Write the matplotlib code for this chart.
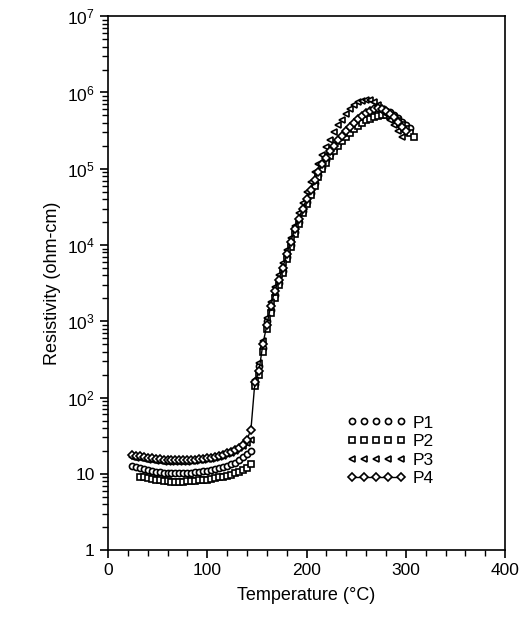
import math
import matplotlib
matplotlib.use('Agg')
import matplotlib.pyplot as plt
from matplotlib.ticker import FixedLocator, LogLocator, NullFormatter, FuncFormatter

plt.rcParams['font.family'] = ['Liberation Sans', 'DejaVu Sans']
plt.rcParams['mathtext.default'] = 'regular'

# low temperature part (PTC plateau)
t_low = [24, 28, 32, 36, 40, 44, 48, 52, 56, 60, 64, 68, 72, 76, 80, 84,
         88, 92, 96, 100, 104, 108, 112, 116, 120, 124, 128, 132, 136, 140, 144]
p1_low = [12.5, 12.2, 11.8, 11.5, 11.2, 10.9, 10.7, 10.5, 10.4, 10.3, 10.2, 10.2, 10.2, 10.2, 10.3, 10.4,
          10.5, 10.6, 10.8, 11.0, 11.2, 11.5, 11.8, 12.2, 12.7, 13.3, 14.0, 15.0, 16.5, 18.0, 20.0]
p2_low = [None, None, 9.2, 9.0, 8.8, 8.6, 8.4, 8.2, 8.1, 8.0, 7.9, 7.9, 7.9, 7.9, 8.0, 8.0,
          8.1, 8.2, 8.3, 8.4, 8.6, 8.8, 9.0, 9.2, 9.5, 9.8, 10.2, 10.6, 11.2, 12.0, 13.5]
p3_low = [16.5, 16.3, 16.0, 15.7, 15.4, 15.1, 14.9, 14.7, 14.5, 14.4, 14.3, 14.3, 14.3, 14.4, 14.5, 14.6,
          14.8, 15.0, 15.2, 15.5, 15.8, 16.2, 16.7, 17.3, 18.0, 19.0, 20.0, 21.5, 23.0, 25.5, 28.0]
p4_low = [17.5, 17.2, 17.0, 16.6, 16.3, 16.0, 15.7, 15.5, 15.3, 15.1, 15.0, 15.0, 15.0, 15.0, 15.1, 15.2,
          15.3, 15.5, 15.7, 16.0, 16.3, 16.7, 17.2, 17.8, 18.6, 19.5, 20.5, 22.0, 24.0, 28.0, 38.0]

# high temperature part (switching region)
t_high = [148, 152, 156, 160, 164, 168, 172, 176, 180, 184, 188, 192, 196, 200, 204, 208, 212,
          216, 220, 224, 228, 232, 236, 240, 244, 248, 252, 256, 260, 264, 268, 272, 276, 280,
          284, 288, 292, 296, 300, 304, 308]
p1_high = [1.5e2, 2.6e2, 4.5e2, 1.0e3, 1.4e3, 2.2e3, 3.2e3, 4.6e3, 7.0e3, 1.0e4, 1.5e4, 2.0e4,
           2.8e4, 3.7e4, 4.8e4, 6.5e4, 8.4e4, 1.05e5, 1.3e5, 1.55e5, 1.85e5, 2.15e5, 2.5e5, 2.85e5,
           3.2e5, 3.6e5, 4.0e5, 4.4e5, 4.8e5, 5.1e5, 5.4e5, 5.6e5, 5.7e5, 5.7e5, 5.5e5, 5.1e5,
           4.6e5, 4.1e5, 3.7e5, 3.4e5]
p2_high = [1.4e2, 2.0e2, 4.0e2, 8.0e2, 1.3e3, 2.0e3, 3.0e3, 4.3e3, 6.5e3, 9.5e3, 1.4e4, 1.9e4,
           2.6e4, 3.5e4, 4.5e4, 6.0e4, 7.8e4, 9.8e4, 1.2e5, 1.45e5, 1.7e5, 2.0e5, 2.3e5, 2.6e5,
           2.95e5, 3.3e5, 3.65e5, 4.0e5, 4.3e5, 4.55e5, 4.75e5, 4.9e5, 5.0e5, 5.0e5, 4.9e5, 4.6e5,
           4.2e5, 3.8e5, 3.3e5, 2.9e5, 2.6e5]
p3_high = [1.7e2, 2.8e2, 5.5e2, 1.1e3, 1.8e3, 2.8e3, 4.0e3, 5.8e3, 8.5e3, 1.25e4, 1.8e4, 2.6e4,
           3.6e4, 5.0e4, 6.8e4, 9.0e4, 1.15e5, 1.5e5, 1.9e5, 2.4e5, 3.0e5, 3.7e5, 4.4e5, 5.2e5,
           6.0e5, 6.8e5, 7.4e5, 7.8e5, 8.0e5, 7.9e5, 7.5e5, 6.8e5, 6.0e5, 5.2e5, 4.4e5, 3.7e5,
           3.1e5, 2.6e5]
p4_high = [1.6e2, 2.2e2, 5.0e2, 8.9e2, 1.6e3, 2.5e3, 3.5e3, 5.0e3, 7.6e3, 1.1e4, 1.6e4, 2.2e4,
           3.0e4, 4.0e4, 5.2e4, 7.1e4, 9.1e4, 1.15e5, 1.4e5, 1.7e5, 2.0e5, 2.35e5, 2.7e5, 3.1e5,
           3.5e5, 4.0e5, 4.5e5, 4.9e5, 5.4e5, 5.75e5, 6.0e5, 6.2e5, 6.0e5, 5.75e5, 5.25e5, 4.7e5,
           4.1e5, 3.55e5, 3.15e5]

labels = ['P1', 'P2', 'P3', 'P4']
markers = ['o', 's', '<', 'D']
lows = [p1_low, p2_low, p3_low, p4_low]
highs = [p1_high, p2_high, p3_high, p4_high]

fig = plt.figure(figsize=(5.29, 6.23), dpi=100)
ax = fig.add_axes([0.204, 0.117, 0.751, 0.857])

for lab, mk, lo, hi in zip(labels, markers, lows, highs):
    xs = [t for t, v in zip(t_low, lo) if v is not None] + t_high[:len(hi)]
    ys = [v for v in lo if v is not None] + hi
    ls = '-' if lab == 'P4' else 'none'
    ms = 3.8 if mk == 'D' else 4.4
    ax.plot(xs, ys, linestyle=ls, lw=1.0, color='black', marker=mk, markersize=ms,
            markerfacecolor='white', markeredgecolor='black', markeredgewidth=1.2, label=lab)

ax.set_yscale('log')
ax.set_xlim(0, 400)
ax.set_ylim(1, 1e7)

ax.xaxis.set_major_locator(FixedLocator([0, 100, 200, 300, 400]))
ax.xaxis.set_minor_locator(FixedLocator(list(range(0, 401, 20))))
ax.xaxis.set_minor_formatter(NullFormatter())
ax.yaxis.set_major_locator(LogLocator(base=10, numticks=10))
ax.yaxis.set_minor_locator(LogLocator(base=10, subs=range(2, 10), numticks=20))
ax.yaxis.set_minor_formatter(NullFormatter())


def ylab(v, pos):
    if v < 1.5:
        return '1'
    if v < 15:
        return '10'
    return '$10^{%d}$' % round(math.log10(v))


ax.yaxis.set_major_formatter(FuncFormatter(ylab))

ax.tick_params(which='both', direction='out', top=False, right=False, labelsize=12.5, colors='black')
ax.tick_params(which='major', length=6, width=1.2)
ax.tick_params(which='minor', length=4, width=1.0)
for s in ax.spines.values():
    s.set_linewidth(1.2)

ax.set_xlabel('Temperature (°C)', fontsize=13, labelpad=6)
ax.set_ylabel('Resistivity (ohm-cm)', fontsize=13, labelpad=4)

leg = ax.legend(loc='lower right', bbox_to_anchor=(0.86, 0.09), frameon=False, numpoints=5,
                handlelength=3.4, fontsize=12.5, labelspacing=0.2, handletextpad=0.4)

fig.savefig('out.png', dpi=100)
